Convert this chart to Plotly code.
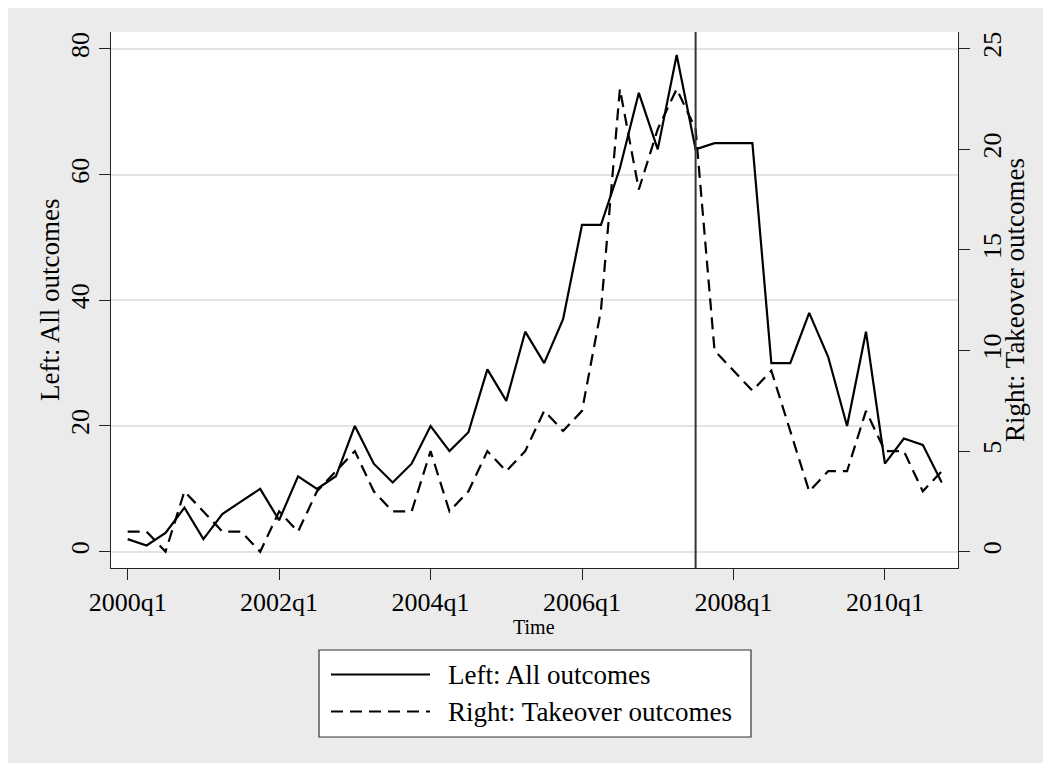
import plotly.graph_objects as go

# ---------------- data ----------------
quarters = [f"{y}q{q}" for y in range(2000, 2011) for q in range(1, 5)]

all_outcomes = [2, 1, 3, 7, 2, 6, 8, 10, 5, 12, 10, 12, 20, 14, 11, 14,
                20, 16, 19, 29, 24, 35, 30, 37, 52, 52, 61, 73, 64, 79, 64, 65,
                65, 65, 30, 30, 38, 31, 20, 35, 14, 18, 17, 11]

takeover_outcomes = [1, 1, 0, 3, 2, 1, 1, 0, 2, 1, 3, 4, 5, 3, 2, 2,
                     5, 2, 3, 5, 4, 5, 7, 6, 7, 12, 23, 18, 21, 23, 21, 10,
                     9, 8, 9, 6, 3, 4, 4, 7, 5, 5, 3, 4]

x_tick_labels = ["2000q1", "2002q1", "2004q1", "2006q1", "2008q1", "2010q1"]
left_ticks = [0, 20, 40, 60, 80]
right_ticks = [0, 5, 10, 15, 20, 25]
event_quarter = "2007q3"

series_names = ["Left: All outcomes", "Right: Takeover outcomes"]
x_title = "Time"

# ---------------- layout geometry ----------------
# the page body adds an 8px offset; positions below are in screen pixels
OFF = 8
W, H = 1051 - 2 * OFF, 771 - 2 * OFF
L, T = 111 - OFF, 32 - OFF
R = W - (958 - OFF)
B = H - (568 - OFF)
PW, PH = W - L - R, H - T - B

def px_x(p):
    return (p - OFF - L) / PW

def px_y(p):
    return (T + PH - (p - OFF)) / PH

FONT = "Liberation Serif, Times New Roman, serif"
GRAY_BG = "#ebebeb"
AXIS_C = "#222222"
DASH = "12px,7px"

fig = go.Figure()
fig.add_trace(go.Scatter(x=quarters, y=all_outcomes, mode="lines",
                         line=dict(color="black", width=2.2),
                         name=series_names[0], showlegend=False))
fig.add_trace(go.Scatter(x=quarters, y=takeover_outcomes, mode="lines",
                         line=dict(color="black", width=2.2, dash=DASH),
                         name=series_names[1], yaxis="y2", showlegend=False))

axis_common = dict(showline=True, linecolor=AXIS_C, linewidth=1,
                   ticks="outside", ticklen=11, tickwidth=1, tickcolor=AXIS_C,
                   zeroline=False, tickfont=dict(family=FONT, size=26, color="black"))

fig.update_layout(
    width=W, height=H, autosize=False,
    margin=dict(l=L, r=R, t=T, b=B, pad=0),
    paper_bgcolor=GRAY_BG, plot_bgcolor="white",
    font=dict(family=FONT, color="black"),
    xaxis=dict(type="category", categoryorder="array", categoryarray=quarters,
               range=[-0.88, 43.86], tickvals=x_tick_labels, ticktext=x_tick_labels,
               showgrid=False, **axis_common),
    yaxis=dict(range=[-2.59, 82.67], tickvals=left_ticks, tickangle=-90,
               showgrid=True, gridcolor="#e3e3e3", gridwidth=1.5,
               ticklabelstandoff=0, **axis_common),
    yaxis2=dict(overlaying="y", side="right", range=[-0.81, 25.83],
                tickvals=right_ticks, tickangle=-90, showgrid=False,
                ticklabelstandoff=0, **axis_common),
)

shapes = [
    # event line
    dict(type="line", xref="x", yref="paper", x0=event_quarter, x1=event_quarter,
         y0=0, y1=1, line=dict(color="#333333", width=2)),
    # legend box
    dict(type="rect", xref="paper", yref="paper",
         x0=px_x(319), x1=px_x(751), y0=px_y(737), y1=px_y(650),
         line=dict(color="#333333", width=1.2), fillcolor="white"),
    dict(type="line", xref="paper", yref="paper",
         x0=px_x(331), x1=px_x(430), y0=px_y(674.5), y1=px_y(674.5),
         line=dict(color="black", width=2.2)),
    dict(type="line", xref="paper", yref="paper",
         x0=px_x(331), x1=px_x(430), y0=px_y(711.5), y1=px_y(711.5),
         line=dict(color="black", width=2.2, dash=DASH)),
]
fig.update_layout(shapes=shapes)

def note(text, x, y, size, angle=0, xanchor="center"):
    fig.add_annotation(xref="paper", yref="paper", x=px_x(x), y=px_y(y),
                       xanchor=xanchor, yanchor="middle", showarrow=False,
                       textangle=angle, text=text,
                       font=dict(family=FONT, size=size, color="black"))

# axis titles
note(series_names[0], 50, 300, 27, angle=-90)
note(series_names[1], 1015, 300, 27, angle=-90)
note(x_title, 534, 627, 20)
# legend entries
note(series_names[0], 446, 675, 27, xanchor="left")
note(series_names[1], 446, 712, 27, xanchor="left")

fig.write_html("out.html")
